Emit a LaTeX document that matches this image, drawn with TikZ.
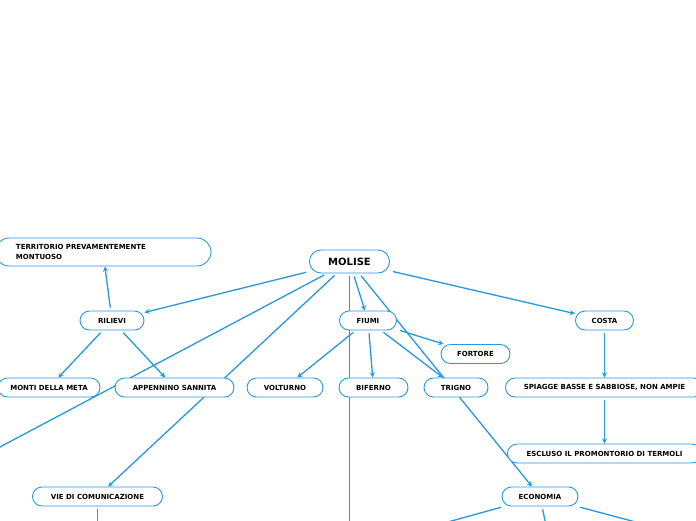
\documentclass[tikz,border=0pt]{standalone}
\usepackage{fontspec}
\setmainfont{DejaVu Sans}
\usetikzlibrary{backgrounds}
\definecolor{mapblue}{RGB}{38,152,226}
\begin{document}
\begin{tikzpicture}[x=1pt,y=-1pt,font=\bfseries\fontsize{7}{8.5}\selectfont,line join=round,line cap=round,>=stealth,
	idea/.style={draw=mapblue,fill=white,line width=0.9pt,rounded corners=9.5pt,minimum height=19pt,inner sep=0pt},
	link/.style={draw=mapblue,line width=1.3pt,shorten <=3pt}]
	\useasboundingbox (0,0) rectangle (696,520);
	\node[idea,minimum width=80,minimum height=23,rounded corners=11.5pt,font=\bfseries\fontsize{10}{12}\selectfont] (molise) at (349.5,261.5) {MOLISE};
	\node[idea,minimum height=28,rounded corners=14pt,text width=174pt,inner xsep=21pt,align=left,font=\bfseries\fontsize{7}{10}\selectfont] (territorio) at (103,252) {TERRITORIO PREVAMENTEMENTE\\MONTUOSO};
	\node[idea,minimum width=64] (rilievi) at (112,320.5) {RILIEVI};
	\node[idea,minimum width=57] (fiumi) at (368,320.5) {FIUMI};
	\node[idea,minimum width=58] (costa) at (604.5,320.5) {COSTA};
	\node[idea,minimum width=69] (fortore) at (475.5,354) {FORTORE};
	\node[idea,minimum width=102] (monti) at (49,387.5) {MONTI DELLA META};
	\node[idea,minimum width=119] (appennino) at (174.5,387.5) {APPENNINO SANNITA};
	\node[idea,minimum width=76] (volturno) at (285,387.5) {VOLTURNO};
	\node[idea,minimum width=69] (biferno) at (373.5,387.5) {BIFERNO};
	\node[idea,minimum width=64] (trigno) at (456,387.5) {TRIGNO};
	\node[idea,minimum width=198] (spiagge) at (604.5,387.5) {SPIAGGE BASSE E SABBIOSE, NON AMPIE};
	\node[idea,minimum width=194] (escluso) at (604.5,453.5) {ESCLUSO IL PROMONTORIO DI TERMOLI};
	\node[idea,minimum width=130] (vie) at (97.5,496.5) {VIE DI COMUNICAZIONE};
	\node[idea,minimum width=76] (economia) at (540,496.5) {ECONOMIA};
	% ends that run out of the frame
	\coordinate (molleft) at (-100,500);
	\coordinate (moldown) at (349.5,560);
	\coordinate (viedown) at (97.5,560);
	\coordinate (ecoleft) at (370,543.5);
	\coordinate (ecodown) at (548,535);
	\coordinate (ecoright) at (720,544.5);
	\begin{scope}[on background layer]
		\draw[link,->] (molise) -- (rilievi);
		\draw[link] (molise) -- (molleft);
		\draw[link,->] (molise) -- (vie);
		\draw[link] (molise) -- (moldown);
		\draw[link,->] (molise) -- (fiumi);
		\draw[link,->] (molise) -- (economia);
		\draw[link,->] (molise) -- (costa);
		\draw[link,->] (rilievi) -- (territorio);
		\draw[link,->] (rilievi) -- (monti);
		\draw[link,->] (rilievi) -- (appennino);
		\draw[link,->] (fiumi) -- (volturno);
		\draw[link,->] (fiumi) -- (biferno);
		\draw[link,->] (fiumi) -- (trigno);
		\draw[link,->] (fiumi) -- (fortore);
		\draw[link,->] (costa) -- (spiagge);
		\draw[link,->] (spiagge) -- (escluso);
		\draw[link] (vie) -- (viedown);
		\draw[link] (economia) -- (ecoleft);
		\draw[link] (economia) -- (ecodown);
		\draw[link] (economia) -- (ecoright);
	\end{scope}
\end{tikzpicture}
\end{document}
